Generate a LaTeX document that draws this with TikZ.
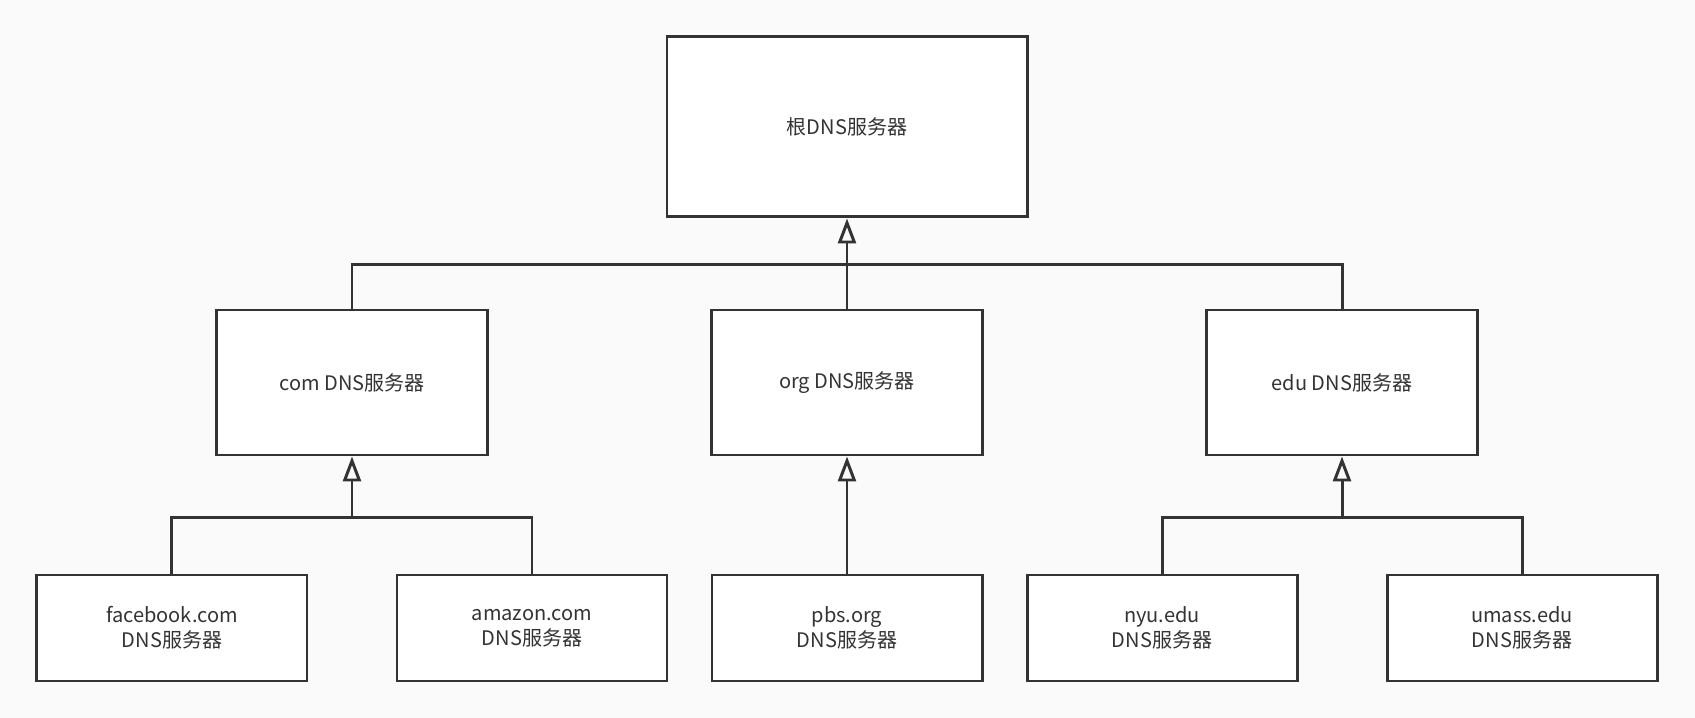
\documentclass[tikz,border=0pt]{standalone}
\usepackage{fontspec}
\newfontfamily\cjk{Noto Sans CJK SC}
\usetikzlibrary{arrows.meta,calc}
\definecolor{linegray}{HTML}{333333}
\definecolor{bggray}{HTML}{FAFAFA}
\begin{document}
\begin{tikzpicture}[
  server/.style={rectangle, draw=linegray, fill=white, line width=1.7pt, inner sep=0pt, align=center, text=linegray, font=\cjk\fontsize{11.4}{14.2}\selectfont},
  topbox/.style={server, minimum width=7.2cm, minimum height=3.6cm},
  tldbox/.style={server, minimum width=5.42cm, minimum height=2.9cm},
  leafbox/.style={server, minimum width=5.4cm, minimum height=2.12cm},
  tree/.style={draw=linegray, line width=1.7pt},
  up/.style={tree, -{Triangle[open, length=0.5cm, width=0.36cm, line width=1.7pt]}}
]
\fill[bggray] (-16.94,2.54) rectangle (16.96,-11.82);
\useasboundingbox (-16.94,2.54) rectangle (16.96,-11.82);

% root and top level domains
\node[topbox] (root) at (0,0) {根DNS服务器};
\node[tldbox] (com) at (-9.9,-5.11) {com DNS服务器};
\node[tldbox] (org) at (0,-5.11) {org DNS服务器};
\node[tldbox] (edu) at (9.9,-5.11) {edu DNS服务器};

% authoritative servers
\node[leafbox] (facebook) at (-13.5,-10.02) {facebook.com\\DNS服务器};
\node[leafbox] (amazon) at (-6.3,-10.02) {amazon.com\\DNS服务器};
\node[leafbox] (pbs) at (0,-10.02) {pbs.org\\DNS服务器};
\node[leafbox] (nyu) at (6.3,-10.02) {nyu.edu\\DNS服务器};
\node[leafbox] (umass) at (13.5,-10.02) {umass.edu\\DNS服务器};

\coordinate (rootbus) at ($(root.south)+(0,-0.92)$);
\coordinate (combus) at ($(com.south)+(0,-1.22)$);
\coordinate (edubus) at ($(edu.south)+(0,-1.22)$);

\draw[tree] (com.north) |- (rootbus) -| (edu.north);
\draw[up] (org.north) -- (root.south);
\draw[tree] (facebook.north) |- (combus) -| (amazon.north);
\draw[up] (combus) -- (com.south);
\draw[up] (pbs.north) -- (org.south);
\draw[tree] (nyu.north) |- (edubus) -| (umass.north);
\draw[up] (edubus) -- (edu.south);
\end{tikzpicture}
\end{document}
